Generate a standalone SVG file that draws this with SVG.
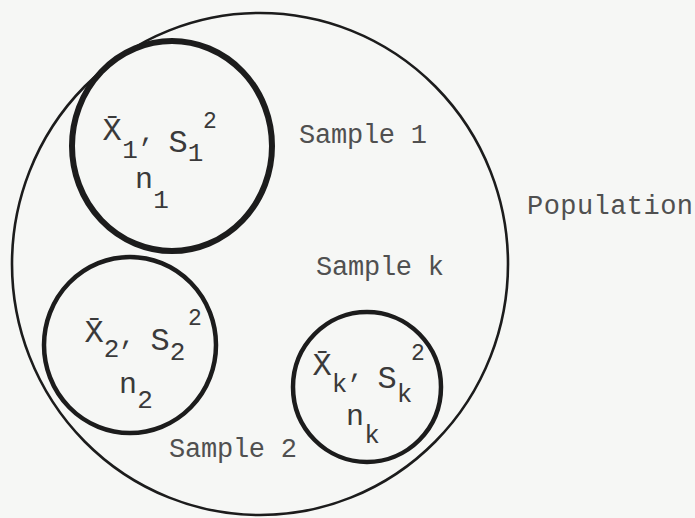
<svg xmlns="http://www.w3.org/2000/svg" width="695" height="518" viewBox="0 0 695 518">
<style>
.bg{fill:#f6f7f5}
.ring{fill:none;stroke:#1c1c1c}
.lbl{font-family:"Liberation Mono","Courier New",monospace;font-size:27px;fill:#505050}
.m{font-family:"Liberation Mono","Courier New",monospace;font-size:32px;fill:#3a3a3a;text-anchor:middle}
.b{font-size:26px}
.n{font-size:30px}
.s{font-size:23px}
</style>
<rect class="bg" x="0" y="0" width="695" height="518"/>
<g id="population">
  <ellipse class="ring" cx="260" cy="264" rx="248" ry="251" stroke-width="2.6"/>
  <text class="lbl" x="527" y="214" textLength="166" lengthAdjust="spacing">Population</text>
</g>
<g id="sample1">
  <ellipse class="ring" cx="172" cy="146" rx="100" ry="105" stroke-width="6"/>
  <text class="m"><tspan x="112" y="140">X̄</tspan><tspan class="b" x="130" y="158">1</tspan><tspan class="b" x="147" y="141">,</tspan><tspan x="178" y="152">S</tspan><tspan class="b" x="195.5" y="161">1</tspan><tspan class="s" x="210" y="128">2</tspan></text>
  <text class="m"><tspan class="n" x="144" y="188">n</tspan><tspan class="b" x="161" y="208">1</tspan></text>
  <text class="lbl" x="299" y="143" textLength="128" lengthAdjust="spacing">Sample 1</text>
</g>
<g id="sample2">
  <ellipse class="ring" cx="130" cy="345" rx="86" ry="88" stroke-width="4.5"/>
  <text class="m"><tspan x="94" y="342">X̄</tspan><tspan class="b" x="111.5" y="357">2</tspan><tspan class="b" x="127.2" y="344">,</tspan><tspan x="160" y="350">S</tspan><tspan class="b" x="177.5" y="360">2</tspan><tspan class="s" x="195" y="325">2</tspan></text>
  <text class="m"><tspan class="n" x="128" y="393">n</tspan><tspan class="b" x="145" y="408">2</tspan></text>
  <text class="lbl" x="169" y="457" textLength="128" lengthAdjust="spacing">Sample 2</text>
</g>
<g id="samplek">
  <ellipse class="ring" cx="367" cy="387" rx="74" ry="75" stroke-width="4.5"/>
  <text class="m"><tspan x="322" y="375">X̄</tspan><tspan class="b" x="339.5" y="392">k</tspan><tspan class="b" x="356" y="377">,</tspan><tspan x="387" y="388">S</tspan><tspan class="b" x="404.5" y="402">k</tspan><tspan class="s" x="418" y="360">2</tspan></text>
  <text class="m"><tspan class="n" x="355" y="425">n</tspan><tspan class="b" x="372" y="443">k</tspan></text>
  <text class="lbl" x="316" y="275" textLength="128" lengthAdjust="spacing">Sample k</text>
</g>
</svg>
